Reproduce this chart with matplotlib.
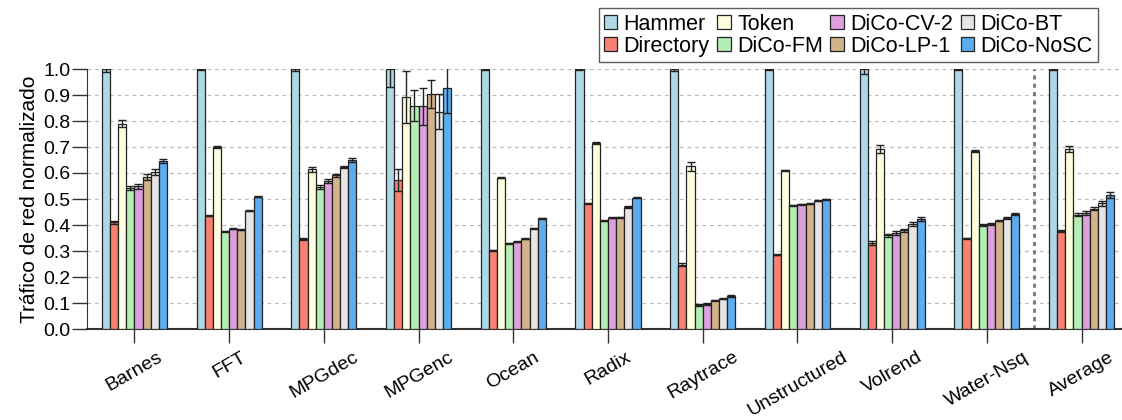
import numpy as np
import matplotlib
matplotlib.use("Agg")
import matplotlib.pyplot as plt

plt.rcParams['font.family'] = ['Liberation Sans', 'DejaVu Sans']

benchmarks = ["Barnes", "FFT", "MPGdec", "MPGenc", "Ocean", "Radix",
              "Raytrace", "Unstructured", "Volrend", "Water-Nsq", "Average"]
protocols = ["Hammer", "Directory", "Token", "DiCo-FM", "DiCo-CV-2",
             "DiCo-LP-1", "DiCo-BT", "DiCo-NoSC"]
colors = ["#ADD8E6", "#FA8072", "#FFFFE0", "#B4EEB4", "#DDA0DD",
          "#D2B48C", "#E5E5E5", "#5CACEE"]

# normalized network traffic, one list per protocol (order of benchmarks)
hammer    = [1.0, 1.0, 1.0, 1.0, 1.0, 1.0, 1.0, 1.0, 1.0, 1.0, 1.0]
directory = [0.410, 0.435, 0.346, 0.572, 0.303, 0.483, 0.248, 0.286, 0.332, 0.349, 0.377]
token     = [0.790, 0.700, 0.615, 0.892, 0.581, 0.715, 0.626, 0.610, 0.692, 0.686, 0.692]
dico_fm   = [0.541, 0.376, 0.546, 0.859, 0.329, 0.417, 0.093, 0.476, 0.360, 0.401, 0.440]
dico_cv2  = [0.549, 0.386, 0.568, 0.856, 0.336, 0.428, 0.097, 0.479, 0.369, 0.404, 0.446]
dico_lp1  = [0.585, 0.382, 0.591, 0.904, 0.347, 0.429, 0.110, 0.481, 0.379, 0.417, 0.463]
dico_bt   = [0.605, 0.455, 0.623, 0.835, 0.387, 0.470, 0.117, 0.494, 0.404, 0.427, 0.483]
dico_nosc = [0.645, 0.508, 0.651, 0.927, 0.426, 0.505, 0.126, 0.499, 0.422, 0.442, 0.514]

# error bars
err_hammer    = [0.010, 0.003, 0.008, 0.070, 0.002, 0.003, 0.008, 0.002, 0.020, 0.004, 0.004]
err_directory = [0.006, 0.002, 0.004, 0.042, 0.002, 0.002, 0.006, 0.002, 0.007, 0.002, 0.004]
err_token     = [0.013, 0.003, 0.010, 0.100, 0.002, 0.003, 0.018, 0.002, 0.015, 0.004, 0.010]
err_fm        = [0.008, 0.002, 0.007, 0.060, 0.002, 0.002, 0.003, 0.002, 0.006, 0.003, 0.006]
err_cv2       = [0.009, 0.002, 0.008, 0.072, 0.002, 0.002, 0.003, 0.002, 0.007, 0.003, 0.008]
err_lp1       = [0.012, 0.002, 0.007, 0.053, 0.002, 0.003, 0.003, 0.002, 0.007, 0.003, 0.007]
err_bt        = [0.012, 0.002, 0.005, 0.067, 0.002, 0.003, 0.003, 0.002, 0.007, 0.003, 0.008]
err_nosc      = [0.008, 0.002, 0.008, 0.097, 0.002, 0.003, 0.004, 0.002, 0.007, 0.003, 0.012]

values = [hammer, directory, token, dico_fm, dico_cv2, dico_lp1, dico_bt, dico_nosc]
errors = [err_hammer, err_directory, err_token, err_fm, err_cv2, err_lp1, err_bt, err_nosc]

fig = plt.figure(figsize=(11.22, 4.2), dpi=100)
ax = fig.add_axes([87/1122, 1-329/420, 1042/1122, 260/420])

x = np.arange(len(benchmarks))
nb = len(protocols)
w = 0.086
for i, (vals, errs) in enumerate(zip(values, errors)):
    pos = x + (i - (nb-1)/2.0)*w
    ax.bar(pos, vals, w, color=colors[i], edgecolor="#222222", linewidth=0.9,
           label=protocols[i], zorder=3)
    ax.errorbar(pos, vals, yerr=errs, fmt='none', ecolor="#222222",
                elinewidth=1.0, capsize=3, capthick=1.0, zorder=4)

ax.set_xlim(-0.5, len(benchmarks)-0.5)
ax.set_ylim(0, 1.0)
ax.set_yticks(np.arange(0, 1.01, 0.1))
ax.set_yticklabels(["%.1f" % v for v in np.arange(0, 1.01, 0.1)], fontsize=14)
ax.set_xticks(x)
ax.set_xticklabels(benchmarks, rotation=30, ha='center', fontsize=14)
ax.tick_params(axis='x', length=10, width=1.0, color="#333333", pad=4)
ax.tick_params(axis='y', length=11, width=1.0, color="#333333", pad=1)

ax.yaxis.grid(True, linestyle=(0, (3, 3)), color="#BBBBBB", linewidth=0.9, zorder=0)
ax.set_axisbelow(True)
ax.axvline(9.5, color="#777777", linestyle=(0, (1.5, 1.5)), linewidth=2, zorder=2)

for s in ["top", "right"]:
    ax.spines[s].set_visible(False)
ax.spines["left"].set_color("#333333")
ax.spines["bottom"].set_color("#333333")
ax.spines["bottom"].set_linewidth(1.5)

ax.set_ylabel(u"Tráfico de red normalizado", fontsize=15, labelpad=3)

leg = fig.legend(loc='lower right', bbox_to_anchor=(1098/1122, 1-62/420), ncol=4,
                 fontsize=15.5, frameon=True, fancybox=False, edgecolor="#333333",
                 handlelength=0.62, handleheight=0.62, handletextpad=0.3,
                 columnspacing=0.35, borderpad=0.25, labelspacing=0.05, borderaxespad=0)
leg.get_frame().set_linewidth(1.0)

fig.savefig("out.png", dpi=100)
